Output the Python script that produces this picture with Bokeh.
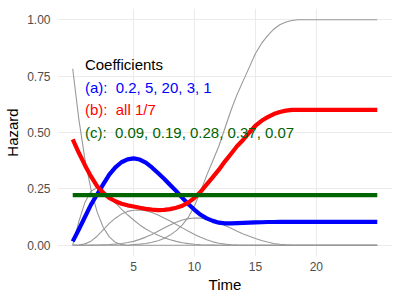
from bokeh.plotting import figure
from bokeh.models import FixedTicker, Range1d, Label, NumeralTickFormatter
from bokeh.embed import file_html
from bokeh.resources import INLINE

# ---- data ----
time = [0, 0.5, 1, 1.5, 2, 2.5, 3, 3.5, 4, 4.5, 5, 5.5, 6, 6.5, 7, 7.5, 8, 8.5, 9, 9.5,
        10, 10.5, 11, 11.5, 12, 12.5, 13, 13.5, 14, 14.5, 15, 15.5, 16, 16.5, 17, 17.5,
        18, 18.5, 19, 25]

basis_1 = [0.783, 0.559, 0.382, 0.247, 0.148, 0.080, 0.037, 0.013, 0.0026, 0.0001,
           0, 0, 0, 0, 0, 0, 0, 0, 0, 0, 0, 0, 0, 0, 0, 0, 0, 0, 0, 0,
           0, 0, 0, 0, 0, 0, 0, 0, 0, 0]
basis_2 = [0, 0.105, 0.19, 0.24, 0.255, 0.245, 0.215, 0.188, 0.16, 0.135,
           0.112, 0.09, 0.072, 0.057, 0.044, 0.033, 0.024, 0.017, 0.011, 0.007,
           0.004, 0.002, 0.001, 0.0003, 0, 0, 0, 0, 0, 0, 0, 0, 0, 0, 0, 0, 0, 0, 0, 0]
basis_3 = [0, 0.001, 0.006, 0.018, 0.04, 0.068, 0.097, 0.12, 0.138, 0.15,
           0.155, 0.156, 0.153, 0.145, 0.134, 0.121, 0.107, 0.092, 0.077, 0.062,
           0.048, 0.035, 0.024, 0.015, 0.009, 0.005, 0.002, 0.0005, 0, 0,
           0, 0, 0, 0, 0, 0, 0, 0, 0, 0]
basis_4 = [0, 0, 0, 0.0003, 0.001, 0.002, 0.003, 0.005, 0.008, 0.012,
           0.017, 0.026, 0.036, 0.048, 0.062, 0.076, 0.09, 0.102, 0.112, 0.118,
           0.121, 0.12, 0.115, 0.108, 0.1, 0.088, 0.075, 0.062, 0.05, 0.04,
           0.03, 0.021, 0.014, 0.008, 0.004, 0.0015, 0.0003, 0, 0, 0]
basis_5 = [0, 0, 0, 0, 0, 0, 0, 0, 0, 0,
           0.003, 0.005, 0.008, 0.013, 0.02, 0.03, 0.045, 0.065, 0.09, 0.125,
           0.175, 0.24, 0.31, 0.375, 0.44, 0.52, 0.6, 0.67, 0.73, 0.79,
           0.85, 0.895, 0.93, 0.958, 0.978, 0.99, 0.997, 1.0, 1.0, 1.0]

hazard_a = [0.017, 0.07, 0.125, 0.18, 0.225, 0.27, 0.313, 0.345, 0.368, 0.381,
            0.385, 0.38, 0.366, 0.345, 0.32, 0.295, 0.267, 0.24, 0.21, 0.182,
            0.157, 0.135, 0.119, 0.108, 0.1, 0.097, 0.097, 0.098, 0.099, 0.1,
            0.101, 0.102, 0.103, 0.103, 0.104, 0.104, 0.104, 0.104, 0.104, 0.104]
hazard_b = [0.47, 0.41, 0.355, 0.305, 0.262, 0.232, 0.21, 0.195, 0.184, 0.177,
            0.172, 0.166, 0.161, 0.158, 0.156, 0.157, 0.16, 0.166, 0.175, 0.19,
            0.21, 0.237, 0.27, 0.302, 0.335, 0.372, 0.406, 0.44, 0.468, 0.5,
            0.53, 0.552, 0.568, 0.582, 0.591, 0.597, 0.6, 0.6, 0.6, 0.6]
time_c = [0, 25]
hazard_c = [0.222, 0.222]

x_ticks = [5, 10, 15, 20]
y_ticks = [0, 0.25, 0.5, 0.75, 1.0]

NB = "\u00a0"
legend_title = "Coefficients"
legend_lines = ["(a):" + NB + " 0.2, 5, 20, 3, 1",
                "(b):" + NB + " all 1/7",
                "(c):" + NB + " 0.09, 0.19, 0.28, 0.37, 0.07"]
legend_colors = ["#0000FF", "#FF0000", "#006400"]
legend_y = [0.7, 0.6, 0.5]

FONT = "Liberation Sans"

p = figure(width=400, height=300, output_backend="svg", toolbar_location=None,
           x_range=Range1d(-1.25, 26.25), y_range=Range1d(-0.05, 1.05),
           min_border_left=57, min_border_right=8, min_border_top=8, min_border_bottom=44)
p.outline_line_color = None
p.background_fill_color = "white"
p.border_fill_color = "white"

for ax in (p.xaxis[0], p.yaxis[0]):
    ax.axis_line_color = None
    ax.major_tick_line_color = None
    ax.minor_tick_line_color = None
    ax.major_tick_in = 0
    ax.major_tick_out = 0
    ax.minor_tick_in = 0
    ax.minor_tick_out = 0
    ax.major_label_text_font = FONT
    ax.major_label_text_font_size = "12px"
    ax.major_label_text_color = "#4D4D4D"
    ax.axis_label_text_font = FONT
    ax.axis_label_text_font_size = "15px"
    ax.axis_label_text_font_style = "normal"
    ax.axis_label_text_color = "black"

p.xaxis.ticker = FixedTicker(ticks=x_ticks)
p.yaxis.ticker = FixedTicker(ticks=y_ticks)
p.yaxis.formatter = NumeralTickFormatter(format="0.00")
p.xaxis.axis_label = "Time"
p.yaxis.axis_label = "Hazard"
p.xaxis.major_label_standoff = 5
p.yaxis.major_label_standoff = 7
p.xaxis.axis_label_standoff = 2
p.yaxis.axis_label_standoff = 3

p.xgrid.grid_line_color = "#EBEBEB"
p.ygrid.grid_line_color = "#EBEBEB"
p.xgrid.grid_line_width = 1.1
p.ygrid.grid_line_width = 1.1
p.xgrid.minor_grid_line_color = None
p.ygrid.minor_grid_line_color = None

for b in (basis_1, basis_2, basis_3, basis_4, basis_5):
    p.line(time, b, line_color="#999999", line_width=1.1, line_join="round")

p.line(time, hazard_a, line_color="#0000FF", line_width=4.2, line_join="round")
p.line(time, hazard_b, line_color="#FF0000", line_width=4.2, line_join="round")
p.line(time_c, hazard_c, line_color="#006400", line_width=4.2)

p.add_layout(Label(x=1, y=0.8, text=legend_title, text_font=FONT, text_font_size="15px",
                   text_color="black", text_baseline="middle", text_align="left"))
for txt, col, yy in zip(legend_lines, legend_colors, legend_y):
    p.add_layout(Label(x=1, y=yy, text=txt, text_font=FONT, text_font_size="15px",
                       text_color=col, text_baseline="middle", text_align="left"))

open("out.html", "w").write(file_html(p, INLINE))
